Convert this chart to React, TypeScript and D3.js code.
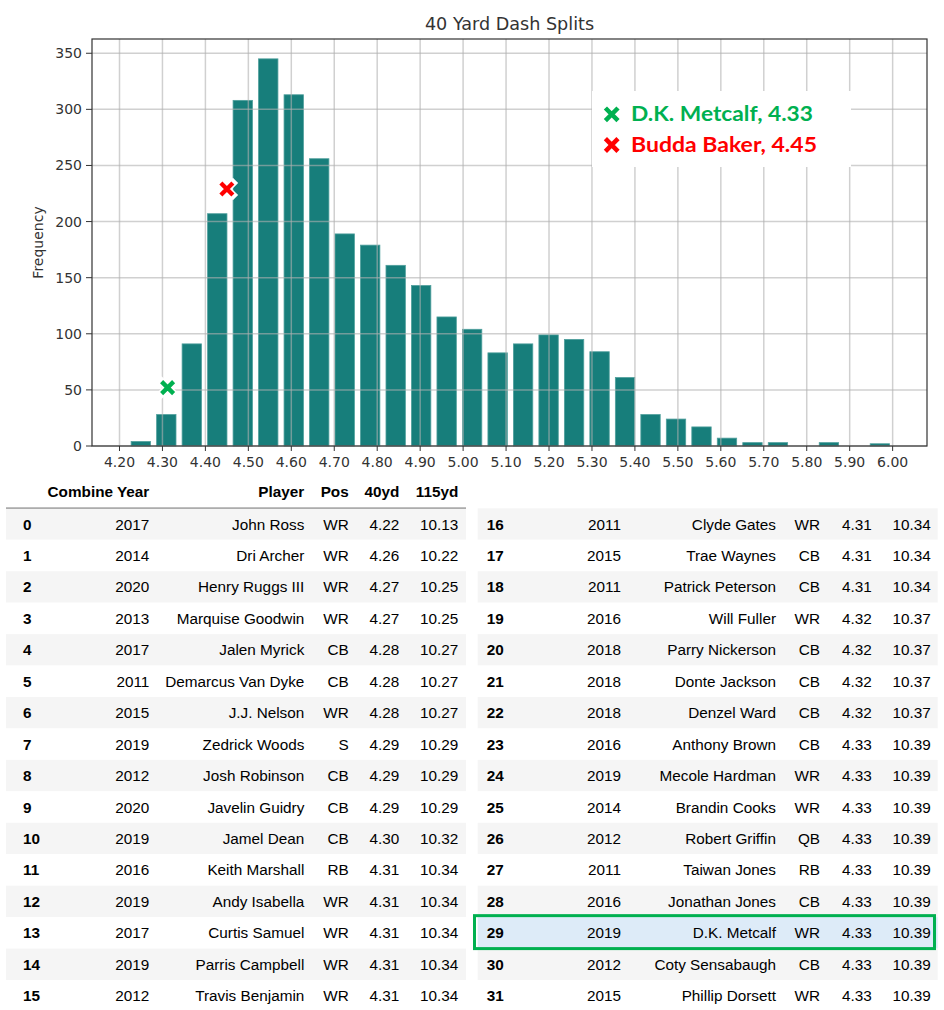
import React from "react";
import * as d3 from "d3";

const binStart = 4.22;
const binEnd = 6.0;
const binCounts = [4, 28, 91, 207, 308, 345, 313, 256, 189, 179, 161, 143, 115, 104, 83, 91, 99, 95, 84, 61, 28, 24, 17, 7, 3, 3, 0, 3, 0, 2];
const xTicks = [4.2, 4.3, 4.4, 4.5, 4.6, 4.7, 4.8, 4.9, 5.0, 5.1, 5.2, 5.3, 5.4, 5.5, 5.6, 5.7, 5.8, 5.9, 6.0];
const yTicks = [0, 50, 100, 150, 200, 250, 300, 350];
const markers = [
  { name: "D.K. Metcalf, 4.33", x: 4.312, y: 52, color: "#00b050" },
  { name: "Budda Baker, 4.45", x: 4.45, y: 229, color: "#ff0000" },
];

const columns = ["Combine Year", "Player", "Pos", "40yd", "115yd"];
const rowIdx = Array.from({ length: 32 }, (_, i) => i);
const years = [2017, 2014, 2020, 2013, 2017, 2011, 2015, 2019, 2012, 2020, 2019, 2016, 2019, 2017, 2019, 2012, 2011, 2015, 2011, 2016, 2018, 2018, 2018, 2016, 2019, 2014, 2012, 2011, 2016, 2019, 2012, 2015];
const players = ["John Ross", "Dri Archer", "Henry Ruggs III", "Marquise Goodwin", "Jalen Myrick", "Demarcus Van Dyke", "J.J. Nelson", "Zedrick Woods", "Josh Robinson", "Javelin Guidry", "Jamel Dean", "Keith Marshall", "Andy Isabella", "Curtis Samuel", "Parris Campbell", "Travis Benjamin", "Clyde Gates", "Trae Waynes", "Patrick Peterson", "Will Fuller", "Parry Nickerson", "Donte Jackson", "Denzel Ward", "Anthony Brown", "Mecole Hardman", "Brandin Cooks", "Robert Griffin", "Taiwan Jones", "Jonathan Jones", "D.K. Metcalf", "Coty Sensabaugh", "Phillip Dorsett"];
const positions = ["WR", "WR", "WR", "WR", "CB", "CB", "WR", "S", "CB", "CB", "CB", "RB", "WR", "WR", "WR", "WR", "WR", "CB", "CB", "WR", "CB", "CB", "CB", "CB", "WR", "WR", "QB", "RB", "CB", "WR", "CB", "WR"];
const forty = ["4.22", "4.26", "4.27", "4.27", "4.28", "4.28", "4.28", "4.29", "4.29", "4.29", "4.30", "4.31", "4.31", "4.31", "4.31", "4.31", "4.31", "4.31", "4.31", "4.32", "4.32", "4.32", "4.32", "4.33", "4.33", "4.33", "4.33", "4.33", "4.33", "4.33", "4.33", "4.33"];
const split115 = ["10.13", "10.22", "10.25", "10.25", "10.27", "10.27", "10.27", "10.29", "10.29", "10.29", "10.32", "10.34", "10.34", "10.34", "10.34", "10.34", "10.34", "10.34", "10.34", "10.37", "10.37", "10.37", "10.37", "10.39", "10.39", "10.39", "10.39", "10.39", "10.39", "10.39", "10.39", "10.39"];
const highlightRow = 29;

const W = 944;
const H = 1010;
const plot = { left: 92, right: 927, top: 39, bottom: 446 };
const FONT = "DejaVu Sans, sans-serif";
const TFONT = "Liberation Sans, Arial, sans-serif";

function XMark({ cx, cy, r, color, outline }: { cx: number; cy: number; r: number; color: string; outline?: boolean }) {
  const d = `M${cx - r},${cy - r}L${cx + r},${cy + r}M${cx - r},${cy + r}L${cx + r},${cy - r}`;
  return (
    <g>
      {outline && <path d={d} stroke="#ffffff" strokeWidth={r * 1.25} strokeLinecap="square" fill="none" />}
      <path d={d} stroke={color} strokeWidth={r * 0.72} strokeLinecap="butt" fill="none" />
    </g>
  );
}

export default function App() {
  const x = d3.scaleLinear().domain([4.136, 6.08]).range([plot.left, plot.right]);
  const y = d3.scaleLinear().domain([0, 362.7]).range([plot.bottom, plot.top]);
  const binW = (binEnd - binStart) / binCounts.length;
  const rwidth = 0.76;

  const bars = binCounts.map((c, i) => {
    const x0 = binStart + i * binW;
    const center = x0 + binW / 2;
    const w = x(binStart + binW) - x(binStart);
    const bw = w * rwidth;
    return { cx: x(center), bw, top: y(c), c };
  });

  const rowH = 31.45;
  const tableTop = 508.3;
  const tables = [
    { left: 6, right: 466, idxX: 23, cols: [149.3, 304.3, 348.7, 399.3, 458.3], rows: rowIdx.slice(0, 16) },
    { left: 477.7, right: 937.7, idxX: 486.7, cols: [621, 776, 820, 871.7, 930.7], rows: rowIdx.slice(16) },
  ];

  return (
    <svg width={W} height={H} style={{ position: "absolute", left: 0, top: 0, background: "#ffffff" }}>
      <rect x={0} y={0} width={W} height={H} fill="#ffffff" />
      <text x={(plot.left + plot.right) / 2} y={30} textAnchor="middle" fontFamily={FONT} fontSize={17.6} fill="#333">
        40 Yard Dash Splits
      </text>
      {bars.map((b, i) =>
        b.c > 0 ? (
          <rect key={i} x={b.cx - b.bw / 2} y={b.top} width={b.bw} height={plot.bottom - b.top} fill="#177e7b" stroke="#4f9f9c" strokeWidth={0.8} />
        ) : null
      )}
      {xTicks.map((t) => (
        <line key={"gx" + t} x1={x(t)} x2={x(t)} y1={plot.top} y2={plot.bottom} stroke="#b0b0b0" strokeOpacity={0.6} strokeWidth={1.5} />
      ))}
      {yTicks.map((t) => (
        <line key={"gy" + t} x1={plot.left} x2={plot.right} y1={y(t)} y2={y(t)} stroke="#b0b0b0" strokeOpacity={0.6} strokeWidth={1.5} />
      ))}
      <rect x={plot.left} y={plot.top} width={plot.right - plot.left} height={plot.bottom - plot.top} fill="none" stroke="#333" strokeWidth={1.2} />
      {xTicks.map((t) => (
        <g key={"tx" + t}>
          <line x1={x(t)} x2={x(t)} y1={plot.bottom} y2={plot.bottom + 5} stroke="#333" strokeWidth={1} />
          <text x={x(t)} y={467} textAnchor="middle" fontFamily={FONT} fontSize={14} fill="#333">
            {t.toFixed(2)}
          </text>
        </g>
      ))}
      {yTicks.map((t) => (
        <g key={"ty" + t}>
          <line x1={plot.left - 6} x2={plot.left} y1={y(t)} y2={y(t)} stroke="#333" strokeWidth={1} />
          <text x={plot.left - 10} y={y(t) + 5} textAnchor="end" fontFamily={FONT} fontSize={14} fill="#333">
            {t}
          </text>
        </g>
      ))}
      <text transform={`translate(43,${(plot.top + plot.bottom) / 2}) rotate(-90)`} textAnchor="middle" fontFamily={FONT} fontSize={14} fill="#333">
        Frequency
      </text>
      {markers.map((m) => (
        <XMark key={m.name} cx={x(m.x)} cy={y(m.y)} r={6} color={m.color} outline />
      ))}
      <rect x={592} y={91} width={259} height={76} fill="#ffffff" />
      {markers.map((m, i) => (
        <g key={"lg" + m.name}>
          <XMark cx={611.7} cy={114.3 + i * 30.7} r={6.3} color={m.color} />
          <text x={631} y={121 + i * 30.5} fontFamily="Lato, Open Sans, sans-serif" fontWeight="bold" fontSize={21.5} fill={m.color} textLength={i === 0 ? 182 : 186} lengthAdjust="spacingAndGlyphs">
            {m.name}
          </text>
        </g>
      ))}
      <g fontFamily={TFONT} fontSize={15.3} fill="#000">
        {columns.map((c, j) => (
          <text key={"h" + c} x={tables[0].cols[j]} y={497} textAnchor="end" fontWeight="bold">
            {c}
          </text>
        ))}
        <line x1={6} x2={466} y1={508.3} y2={508.3} stroke="#000" strokeWidth={1.3} />
        {tables.map((tb, ti) => (
          <g key={"tb" + ti}>
            {tb.rows.map((r, k) => {
              const top = tableTop + k * rowH;
              const base = top + rowH / 2 + 5.5;
              const isHi = r === highlightRow;
              const fill = isHi ? "#ddebf8" : k % 2 === 0 ? "#f5f5f5" : "#ffffff";
              return (
                <g key={"r" + r}>
                  <rect x={tb.left} y={top} width={tb.right - tb.left} height={rowH} fill={fill} />
                  <text x={tb.idxX} y={base} fontWeight="bold">{r}</text>
                  <text x={tb.cols[0]} y={base} textAnchor="end">{years[r]}</text>
                  <text x={tb.cols[1]} y={base} textAnchor="end">{players[r]}</text>
                  <text x={tb.cols[2]} y={base} textAnchor="end">{positions[r]}</text>
                  <text x={tb.cols[3]} y={base} textAnchor="end">{forty[r]}</text>
                  <text x={tb.cols[4]} y={base} textAnchor="end">{split115[r]}</text>
                </g>
              );
            })}
          </g>
        ))}
        <rect x={474.5} y={tableTop + 13 * rowH - 1.5} width={460} height={rowH + 1.5} fill="none" stroke="#00b050" strokeWidth={3} />
      </g>
    </svg>
  );
}
